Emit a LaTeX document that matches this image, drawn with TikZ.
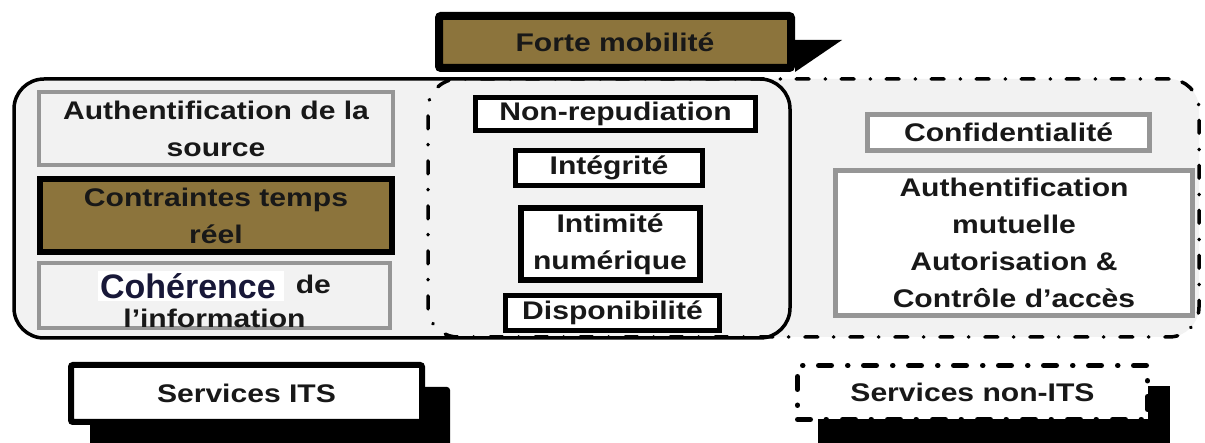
\documentclass[tikz,border=0pt]{standalone}
\usepackage{fontspec}
\newfontfamily\lab{Liberation Sans}[FakeStretch=1.18]
\newfontfamily\labn{Liberation Sans}
\definecolor{bronze}{RGB}{140,116,60}
\definecolor{panel}{RGB}{242,242,242}
\definecolor{frame}{RGB}{150,150,150}
\definecolor{ink}{RGB}{24,24,24}
\definecolor{navy}{RGB}{24,24,56}

\begin{document}
\begin{tikzpicture}[x=1pt,y=-1pt,
  lbl/.style={font=\lab\bfseries\fontsize{25.5}{37}\selectfont, text=ink,
              align=center, inner sep=0pt, outer sep=0pt},
  graybox/.style={lbl, draw=frame, line width=4pt},
  blackbox/.style={lbl, draw=black, line width=5pt, fill=white},
  dashdot/.style={dash pattern=on 13pt off 15.5pt on 0.5pt off 16pt, line cap=round},
]
\useasboundingbox (0,0) rectangle (1205,443);

% shaded background of the two service groups
\fill[panel, rounded corners=30pt] (14,79) rectangle (790,338);
\node[fill=panel, draw=black, line width=3.5pt, dashdot, rounded corners=30pt,
      outer sep=0pt, minimum width=771pt, minimum height=258pt] (nits) at (813.5,208) {};
\node[draw=black, line width=3.5pt, rounded corners=30pt, outer sep=0pt,
      minimum width=776pt, minimum height=259pt] (its) at (402,208.5) {};

% mobility banner with its shadow
\fill (795,40) -- (842,40) -- (795,72) -- cycle;
\node[lbl, draw=black, line width=8pt, fill=bronze, rounded corners=2pt,
      minimum width=352pt, minimum height=52pt] (fm) at (615,42) {Forte mobilité};

% ITS-only requirements
\node[graybox, minimum width=354pt, minimum height=73pt] (auth) at (216,128.5)
  {Authentification de la\\source};
\node[lbl, draw=black, line width=6pt, fill=bronze,
      minimum width=352pt, minimum height=73pt] (rt) at (216,215.5)
  {Contraintes temps\\réel};
\node[graybox, minimum width=351pt, minimum height=61pt,
      font=\lab\bfseries\fontsize{25.5}{29}\selectfont] (coh) at (214.5,295.5)
  {\rule{0pt}{35pt}{\setlength{\fboxsep}{2pt}\colorbox{white}{\labn\bfseries\fontsize{34}{34}\selectfont\color{navy}Cohérence\hspace{6pt}}}\hspace{12pt}\raisebox{5pt}{de}\\l’information};

% shared requirements
\node[blackbox, minimum width=280pt, minimum height=33pt] (nr) at (615.5,114) {Non-repudiation};
\node[blackbox, minimum width=187pt, minimum height=35pt] (integ) at (609,168) {Intégrité};
\node[blackbox, line width=6pt, minimum width=179pt, minimum height=72pt] (intim) at (610,244)
  {Intimité\\numérique};
\node[blackbox, minimum width=214pt, minimum height=35pt] (dispo) at (612.5,313) {Disponibilité};

% non-ITS requirements
\node[graybox, fill=white, line width=5pt, minimum width=282pt, minimum height=36pt] (conf)
  at (1008.5,132.5) {Confidentialité};
\node[graybox, fill=white, line width=5pt, minimum width=357pt, minimum height=145pt] (mut)
  at (1014,243) {Authentification\\mutuelle\\Autorisation \&\\Contrôle d’accès};

% legend
\fill[rounded corners=3pt] (90,387) rectangle (450,460);
\node[lbl, draw=black, line width=6pt, fill=white, rounded corners=2pt,
      minimum width=351pt, minimum height=57pt] (sits) at (246.5,393.5) {Services ITS};
\fill (818,386) rectangle (1170,460);
\node[lbl, draw=black, line width=5pt, fill=white, dashdot,
      minimum width=350pt, minimum height=54pt] (snits) at (972.5,392.5) {Services non-ITS};
\end{tikzpicture}
\end{document}
